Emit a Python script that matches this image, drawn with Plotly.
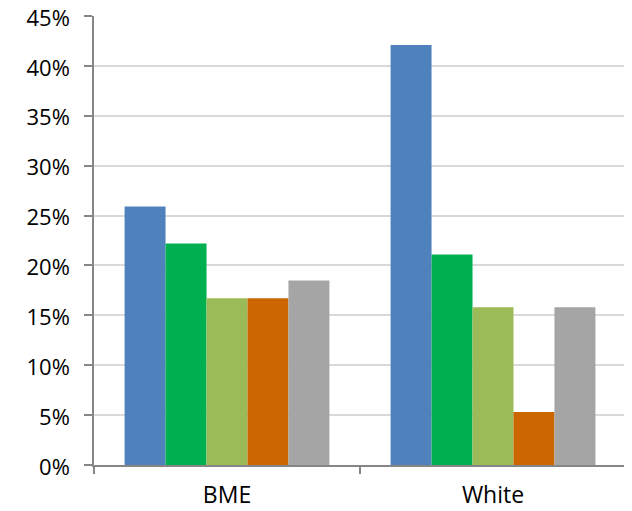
import plotly.graph_objects as go

categories = ["BME", "White"]
series_names = ["S1", "S2", "S3", "S4", "S5"]
series_values = [
    [25.9, 42.1],
    [22.2, 21.1],
    [16.7, 15.8],
    [16.7, 5.3],
    [18.5, 15.8],
]
colors = ["#4F81BD", "#00B050", "#9BBB59", "#CC6600", "#A5A5A5"]
y_ticks = [0, 5, 10, 15, 20, 25, 30, 35, 40, 45]
y_tick_labels = [f"{v}%" for v in y_ticks]

fig = go.Figure()
for name, vals, col in zip(series_names, series_values, colors):
    fig.add_trace(go.Bar(x=categories, y=vals, name=name, marker_color=col,
                         marker_line_width=0))

font = dict(family="Open Sans, Liberation Sans, sans-serif", size=22, color="#000000")
# page body has 8px default margin; figure size compensates
fig.update_layout(
    width=624, height=503,
    margin=dict(l=86, r=6, t=8, b=46, autoexpand=False),
    plot_bgcolor="white", paper_bgcolor="white",
    barmode="group", bargap=0.23, bargroupgap=0,
    showlegend=False,
    font=font,
)
fig.update_yaxes(range=[0, 45], tickvals=y_ticks, ticktext=y_tick_labels,
                 showgrid=True, gridcolor="#D9D9D9", gridwidth=1.5,
                 showline=True, linecolor="#868686", linewidth=1.5,
                 ticks="outside", ticklen=8, tickcolor="#868686", tickwidth=1.5,
                 ticklabelstandoff=10, ticklabelshift=2, zeroline=False,
                 fixedrange=True, automargin=False, ticklabeloverflow="allow")
fig.update_xaxes(showline=True, linecolor="#868686", linewidth=1.5,
                 ticks="outside", tickson="boundaries", ticklen=7,
                 tickcolor="#868686", tickwidth=1.5, ticklabelstandoff=9,
                 showgrid=False, fixedrange=True, automargin=False,
                 ticklabeloverflow="allow", tickfont=dict(size=23))

fig.write_html("out.html")
